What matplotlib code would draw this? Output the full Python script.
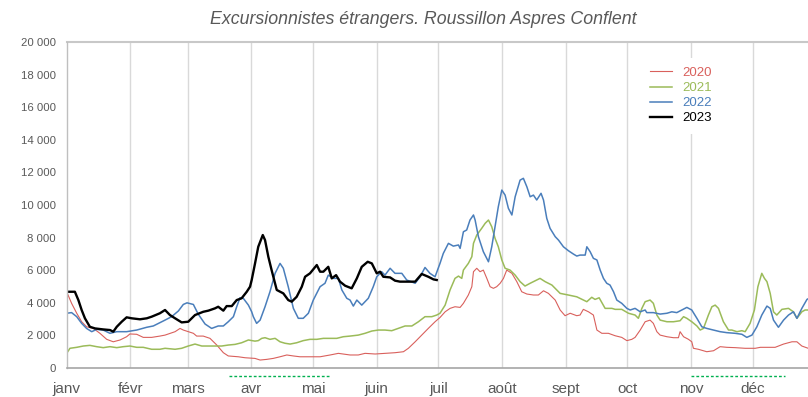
import matplotlib.pyplot as plt
import matplotlib.transforms as mtransforms
from matplotlib.ticker import FuncFormatter

plt.rcParams['font.family'] = ['Liberation Sans', 'DejaVu Sans']

# jours depuis le 1er janvier
mois = ['janv', 'févr', 'mars', 'avr', 'mai', 'juin', 'juil', 'août', 'sept', 'oct', 'nov', 'déc']
debut_mois = [0, 31, 59, 90, 120, 151, 181, 212, 243, 273, 304, 334]

# vacances scolaires (trait vert sous l'axe)
vacances = [(79, 128), (304, 350)]

jours_2020 = [0, 2.4, 4.9, 7.3, 9.7, 13, 16.2, 19.5, 22.7, 26, 29.2, 30.8, 34.1, 37.3, 41.4, 45.4, 47.9,
              52.8, 55.2, 56.8, 59.2, 61.7, 63.3, 66.5, 69.8, 73.1, 76.3, 78.7, 83.6, 86.9, 91.7, 94.2,
              97.4, 100.6, 103.9, 107.2, 110.4, 113.6, 118.5, 123.4, 128.3, 132.3, 134.7, 138, 142,
              145.3, 150.2, 155, 159.9, 164, 166.4, 169.7, 172.9, 176.1, 179.4, 181.8, 184.3, 186.7,
              189.1, 191.6, 193.2, 195.6, 197.3, 198.1, 199.7, 201.3, 202.9, 204.6, 206.2, 207.8,
              209.4, 211.1, 212.7, 214.3, 216.8, 219.2, 221.6, 224.1, 227.3, 229.7, 232.2, 234.6,
              237.9, 240.3, 242.7, 245.2, 248.4, 250, 251.6, 254.1, 256.5, 258.2, 260.6, 263.8,
              267.1, 270.3, 272.8, 275.2, 276.8, 279.3, 281.7, 284.1, 285.7, 287.4, 289, 292.3,
              295.5, 297.9, 298.7, 300.4, 302.8, 304.4, 305.2, 307.6, 311.7, 315, 318.2, 321.5,
              325.5, 330.4, 335.3, 337.8, 341.8, 345, 349.1, 353.2, 355.6, 358, 361.1]
val_2020 = [4680, 3970, 3360, 2840, 2530, 2430, 2130, 1760, 1610, 1720, 1920, 2090, 2070, 1880, 1880,
            1960, 2020, 2230, 2430, 2330, 2230, 2130, 1960, 1960, 1820, 1410, 940, 740, 690, 630, 590,
            490, 530, 590, 690, 800, 740, 690, 690, 690, 800, 900, 860, 800, 800, 900, 860, 900, 940,
            1000, 1210, 1610, 2020, 2430, 2840, 3100, 3450, 3660, 3760, 3720, 3970, 4480, 4990, 5910,
            6120, 5910, 6010, 5500, 4990, 4890, 4990, 5200, 5500, 6010, 5810, 5300, 4680, 4540, 4480,
            4480, 4740, 4580, 4170, 3560, 3210, 3360, 3210, 3250, 3600, 3450, 3250, 2330, 2130, 2130,
            1980, 1880, 1680, 1760, 1880, 2330, 2840, 2940, 2740, 2230, 2020, 1920, 1860, 1860, 2230,
            1920, 1760, 1610, 1210, 1150, 1000, 1060, 1310, 1270, 1250, 1210, 1210, 1270, 1270, 1270,
            1470, 1610, 1610, 1350, 1210]

jours_2021 = [0, 1.6, 4.9, 8.1, 11.3, 14.6, 17.8, 21.1, 24.4, 27.6, 30.8, 34.1, 37.3, 41.4, 45.4, 47.9,
              52.8, 56, 59.2, 62.5, 65.8, 72.2, 75.5, 78.7, 82, 85.2, 88.5, 91.7, 93.3, 95, 96.6, 99,
              101.5, 103.9, 106.3, 108.8, 112, 115.2, 118.5, 121.8, 125, 128.3, 131.5, 134.7, 138, 142,
              145.3, 148.6, 151.8, 155, 158.3, 161.5, 164.8, 168.1, 171.3, 174.5, 177.8, 180.2, 181.8,
              184.3, 186.7, 189.1, 190.8, 192.4, 193.2, 195.6, 197.3, 198.1, 199.7, 202.1, 203.8, 205.4,
              207, 208.6, 210.2, 211.9, 213.5, 215.9, 218.4, 220.8, 223.2, 225.7, 230.5, 233, 236.3,
              240.3, 244.3, 248.4, 251.6, 253.3, 255.7, 257.3, 259.3, 262.2, 265.5, 267.1, 270.3, 273.6,
              276.8, 278.4, 280.1, 281.7, 284.1, 285.7, 287.4, 289, 292.3, 295.5, 298.7, 300.4, 302,
              304.4, 306.9, 308.5, 310.1, 312.5, 314.2, 315.8, 317.4, 319.8, 322.3, 323.9, 326.4, 328.8,
              330.4, 332.8, 334.9, 336.6, 338.5, 339.8, 341, 342.6, 344.2, 345.8, 348.3, 351.5, 353.9,
              355.6, 358, 359.6, 361.1]
val_2021 = [900, 1210, 1270, 1350, 1390, 1310, 1250, 1310, 1250, 1310, 1350, 1270, 1270, 1150, 1150,
            1210, 1150, 1210, 1350, 1470, 1350, 1350, 1350, 1410, 1450, 1550, 1720, 1650, 1680, 1820,
            1860, 1760, 1820, 1610, 1520, 1470, 1550, 1680, 1760, 1760, 1820, 1820, 1820, 1920, 1960,
            2020, 2130, 2270, 2330, 2330, 2290, 2430, 2580, 2580, 2840, 3150, 3150, 3250, 3360, 3860,
            4790, 5500, 5640, 5500, 6010, 6420, 6830, 7650, 8160, 8570, 8880, 9080, 8670, 7960, 7440,
            6630, 6120, 6010, 5700, 5300, 5030, 5200, 5500, 5300, 5090, 4580, 4480, 4370, 4170, 4070,
            4340, 4210, 4310, 3660, 3660, 3600, 3600, 3360, 3250, 3050, 3660, 4070, 4170, 3970, 3250,
            2940, 2840, 2840, 2900, 3150, 3050, 2840, 2580, 2330, 2430, 3250, 3760, 3860, 3660, 2840,
            2330, 2330, 2230, 2290, 2230, 2740, 3560, 4990, 5810, 5500, 5300, 4580, 3450, 3250, 3600,
            3660, 3450, 3050, 3450, 3560, 3560]

jours_2022 = [0, 2.4, 4.9, 7.3, 9.7, 12.2, 14.6, 17.8, 21.1, 24.4, 29.2, 34.1, 39, 42.2, 45.4, 47.9,
              51.1, 54.4, 56.8, 58.6, 61.7, 64.1, 67.4, 70.6, 73.8, 76.3, 78.7, 81.2, 82.8, 84.4, 86,
              88.5, 90.1, 90.9, 92.5, 94.2, 96.6, 99, 101.5, 103.9, 105.5, 107.9, 110.4, 112.8, 115.2,
              117.7, 120.1, 123.4, 125.8, 127.4, 129.9, 132.3, 134, 136.4, 138, 139.6, 141.3, 143.7,
              146.9, 149.3, 151, 153.4, 155, 157.5, 159.9, 163.2, 165.6, 169.7, 172.1, 174.5, 176.9,
              179.4, 181.8, 183.4, 185.9, 188.3, 190.8, 191.6, 193.2, 194.8, 196.4, 198.1, 198.9, 200.5,
              202.9, 205.4, 207, 208.6, 210.2, 211.9, 213.5, 215.1, 216.8, 218.4, 220.8, 222.4, 224.1,
              225.7, 227.3, 228.9, 231, 232.2, 233.8, 235.4, 237.9, 239.5, 241.9, 244.3, 246.8, 248.4,
              250, 252.5, 253.3, 254.9, 256.5, 258.2, 259.8, 261.4, 263, 264.6, 266.3, 267.9, 270.3,
              272.8, 274.4, 276.8, 279.3, 281.7, 282.5, 285.7, 289, 292.3, 294.7, 297.1, 299.6, 302,
              304.4, 306.9, 309.3, 311.7, 315, 318.2, 321.5, 325.5, 328.8, 331.2, 333.7, 336.1, 338.5,
              341, 342.6, 344.2, 346.6, 349.1, 351.5, 353.9, 355.6, 358, 360.5, 361.1]
val_2022 = [3360, 3400, 3150, 2740, 2430, 2230, 2370, 2330, 2130, 2230, 2230, 2330, 2500, 2580, 2780,
            2940, 3150, 3500, 3900, 4000, 3900, 3300, 2700, 2430, 2580, 2580, 2840, 3150, 3760, 4310,
            4280, 3860, 3450, 3150, 2740, 2940, 3760, 4680, 5810, 6420, 6120, 4990, 3660, 3050, 3050,
            3360, 4170, 4990, 5200, 5700, 5500, 5500, 4790, 4280, 4170, 3800, 4170, 3860, 4280, 4990,
            5600, 5910, 5700, 6120, 5810, 5810, 5400, 5200, 5600, 6170, 5810, 5600, 6420, 7030, 7650,
            7480, 7550, 7340, 8360, 8470, 9080, 9390, 9080, 8060, 7140, 6520, 7440, 8670, 9900, 10920,
            10610, 9800, 9390, 10510, 11530, 11640, 11120, 10510, 10610, 10310, 10720, 10310, 9180, 8570,
            8060, 7850, 7440, 7200, 6990, 6870, 6930, 6930, 7440, 7140, 6730, 6630, 6010, 5500, 5200,
            5090, 4680, 4170, 3970, 3660, 3560, 3660, 3450, 3560, 3400, 3400, 3310, 3360, 3450, 3400,
            3560, 3720, 3560, 3050, 2530, 2430, 2330, 2230, 2170, 2130, 2070, 1880, 2020, 2530, 3250,
            3800, 3660, 2940, 2500, 2940, 3250, 3450, 3050, 3660, 4210, 4250]

jours_2023 = [0, 4, 5.7, 7.3, 8.9, 11.3, 13.8, 17.7, 21.1, 22.7, 24.4, 26.8, 29.2, 31.7, 35.7, 39, 41.4,
              45.4, 47.9, 50.3, 52.8, 56, 59.2, 62.5, 66.5, 69, 72.2, 73.8, 76.3, 77.9, 80.4, 82.8, 85.2,
              87.7, 89.3, 90.1, 91.7, 93.3, 95.5, 96.6, 98.2, 99.8, 102.3, 105.5, 107.9, 109.6, 112,
              114.5, 116.1, 118.5, 121.8, 123.4, 125, 127.4, 129.1, 131.2, 133.1, 135.6, 138.8, 141.3,
              143.7, 146.6, 148.6, 151, 152.6, 154.2, 157.5, 159.9, 162.3, 169.7, 172.9, 176.1, 178.6,
              180.2]
val_2023 = [4680, 4680, 4170, 3560, 3050, 2530, 2430, 2370, 2330, 2230, 2530, 2840, 3110, 3050, 2990,
            3050, 3150, 3360, 3560, 3250, 3050, 2800, 2840, 3250, 3450, 3520, 3660, 3760, 3520, 3800,
            3800, 4170, 4280, 4680, 4990, 5400, 6400, 7440, 8160, 7850, 6830, 6010, 4790, 4580, 4170,
            4070, 4370, 4990, 5600, 5810, 6320, 5910, 5910, 6210, 5500, 5700, 5300, 5050, 4890, 5500,
            6210, 6520, 6420, 5810, 5910, 5600, 5560, 5360, 5300, 5300, 5770, 5600, 5440, 5400]

couleurs = {'2020': '#d9605c', '2021': '#9bbb59', '2022': '#4a7ebb', '2023': '#000000'}

fig = plt.figure(figsize=(8.08, 3.97), dpi=100)
ax = fig.add_axes([0.0825, 0.073, 0.9175, 0.821])

ax.plot(jours_2020, val_2020, color=couleurs['2020'], lw=0.8, label='2020')
ax.plot(jours_2021, val_2021, color=couleurs['2021'], lw=1.1, label='2021')
ax.plot(jours_2022, val_2022, color=couleurs['2022'], lw=1.1, label='2022')
ax.plot(jours_2023, val_2023, color=couleurs['2023'], lw=1.7, label='2023')

ax.set_xlim(0, 361)
ax.set_ylim(0, 20000)
ax.set_yticks(range(0, 20001, 2000))
ax.yaxis.set_major_formatter(FuncFormatter(lambda v, p: f"{int(v):,}".replace(',', ' ')))
ax.set_xticks(debut_mois)
ax.set_xticklabels(mois)
ax.tick_params(axis='x', length=0, pad=10, labelsize=11, labelcolor='#595959')
ax.tick_params(axis='y', length=0, pad=8, labelsize=8.2, labelcolor='#595959')

for d in debut_mois[1:]:
    ax.axvline(d, color='#d9d9d9', lw=1, zorder=0)
ax.axhline(20000, color='#c8c8c8', lw=1.5, zorder=0, clip_on=False)

for s in ['top', 'right']:
    ax.spines[s].set_visible(False)
ax.spines['left'].set_color('#bfbfbf')
ax.spines['bottom'].set_color('#a6a6a6')
ax.spines['left'].set_linewidth(1)
ax.spines['bottom'].set_linewidth(1.2)

# périodes de vacances
trans = mtransforms.blended_transform_factory(ax.transData, ax.transAxes)
for d0, d1 in vacances:
    ax.plot([d0, d1], [-0.025, -0.025], transform=trans, color='#00b050', lw=1,
            ls=(0, (2, 1.5)), clip_on=False)

leg = ax.legend(loc='upper left', bbox_to_anchor=(0.793, 0.855), bbox_transform=fig.transFigure,
                borderaxespad=0, frameon=True, facecolor='white', edgecolor='none', framealpha=1,
                fontsize=9.5, handlelength=1.67, handletextpad=0.8, labelspacing=0.22, borderpad=0.7)
for txt, line in zip(leg.get_texts(), leg.get_lines()):
    txt.set_color(line.get_color())

fig.text(0.524, 0.952, 'Excursionnistes étrangers. Roussillon Aspres Conflent', ha='center', va='center',
         fontsize=12.8, style='italic', color='#595959')

fig.savefig('out.png', dpi=100)
